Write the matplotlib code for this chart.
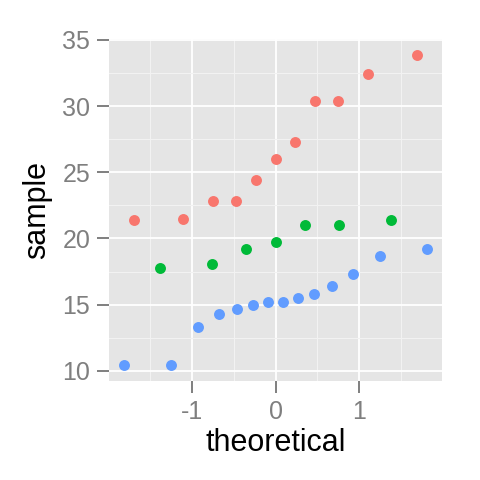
import matplotlib
matplotlib.use("Agg")
import matplotlib.pyplot as plt
from matplotlib.ticker import MultipleLocator

plt.rcParams["font.family"] = ["Liberation Sans", "DejaVu Sans"]

# theoretical quantiles and samples, one group per colour
theo_red = [-1.69, -1.10, -0.75, -0.47, -0.23, 0.0, 0.23, 0.47, 0.75, 1.10, 1.69]
samp_red = [21.4, 21.5, 22.8, 22.8, 24.4, 26.0, 27.3, 30.4, 30.4, 32.4, 33.9]

theo_green = [-1.37, -0.76, -0.35, 0.0, 0.35, 0.76, 1.37]
samp_green = [17.8, 18.1, 19.2, 19.7, 21.0, 21.0, 21.4]

theo_blue = [-1.80, -1.24, -0.92, -0.67, -0.46, -0.27, -0.09,
             0.09, 0.27, 0.46, 0.67, 0.92, 1.24, 1.80]
samp_blue = [10.4, 10.4, 13.3, 14.3, 14.7, 15.0, 15.2,
             15.2, 15.5, 15.8, 16.4, 17.3, 18.7, 19.2]

x_ticks = [-1, 0, 1]
y_ticks = [10, 15, 20, 25, 30, 35]

fig = plt.figure(figsize=(4.8, 4.8), dpi=100)
ax = fig.add_axes([109 / 480, 99 / 480, 333 / 480, 342 / 480])
ax.set_facecolor("#E5E5E5")

ax.xaxis.set_minor_locator(MultipleLocator(0.5))
ax.yaxis.set_minor_locator(MultipleLocator(2.5))
ax.grid(which="minor", color="#F2F2F2", linewidth=0.8)
ax.grid(which="major", color="white", linewidth=1.3)
ax.set_axisbelow(True)

for x, y, c in [(theo_red, samp_red, "#F8766D"),
                (theo_green, samp_green, "#00BA38"),
                (theo_blue, samp_blue, "#619CFF")]:
    ax.scatter(x, y, s=62, color=c, linewidths=0, zorder=3)

ax.set_xlim(-1.983, 1.983)
ax.set_ylim(9.225, 35.075)
ax.set_xticks(x_ticks)
ax.set_xticklabels([str(v) for v in x_ticks])
ax.set_yticks(y_ticks)
ax.tick_params(which="major", length=8.5, width=1.4, color="#7F7F7F",
               labelcolor="#7F7F7F", labelsize=18, pad=5)
ax.tick_params(which="minor", length=0)

for s in ax.spines.values():
    s.set_visible(False)

ax.set_xlabel("theoretical", fontsize=22, labelpad=3)
ax.set_ylabel("sample", fontsize=22, labelpad=7)

fig.savefig("out.png", dpi=100)
